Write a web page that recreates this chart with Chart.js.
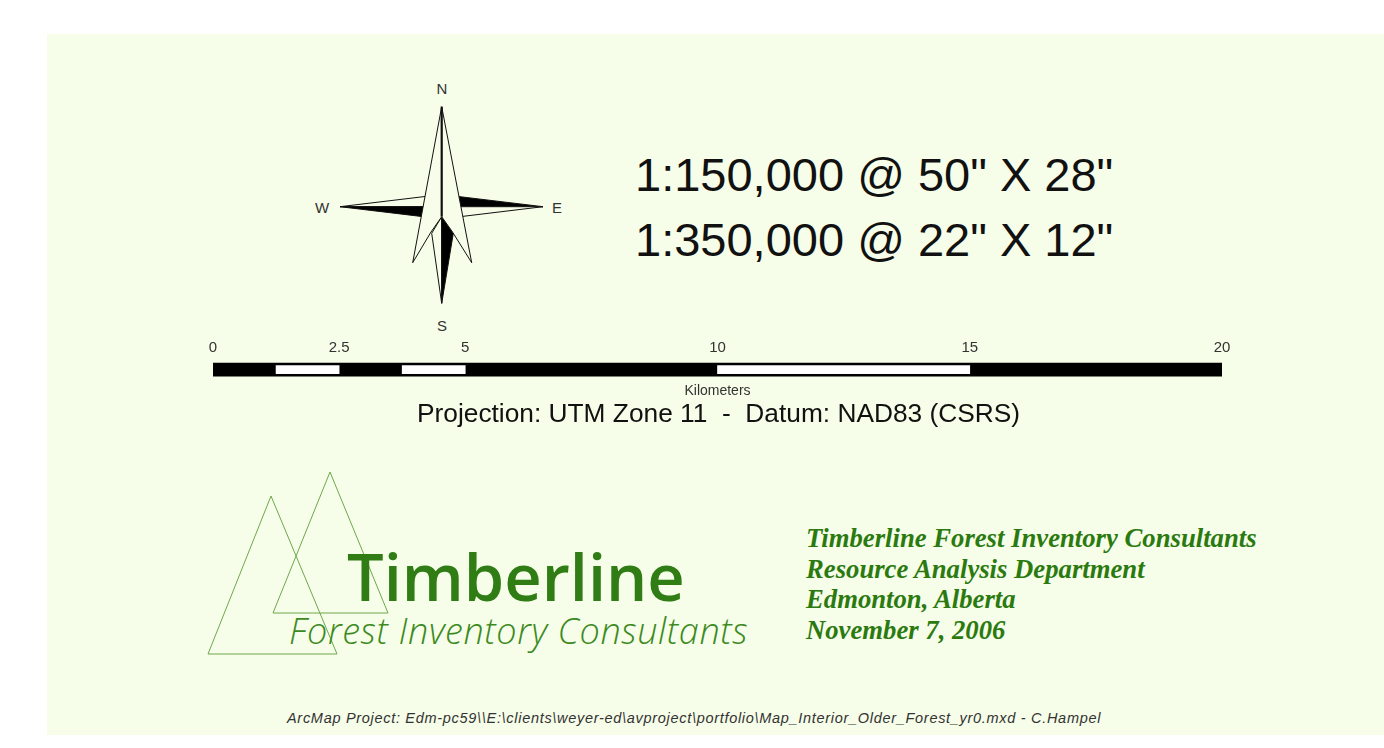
<!DOCTYPE html>
<html lang="en">
<head>
    <meta charset="UTF-8">
    <title>Map legend - scale bar</title>
    <script src="https://cdn.jsdelivr.net/npm/chart.js"></script>
    <style>
        body {
            margin: 0;
            width: 1384px;
            height: 748px;
            background: #ffffff;
            overflow: hidden;
            position: relative;
            font-family: "Liberation Sans", Arial, sans-serif;
        }
        #panel {
            position: absolute;
            left: 47px;
            top: 34px;
            right: 0;
            bottom: 13px;
            background: #f6fde8;
        }
        .txt {
            position: absolute;
            white-space: nowrap;
            line-height: 1;
        }
        .scale { font-size: 47px; color: #111; }
        #proj { left: 417px; top: 400px; font-size: 26.3px; color: #111; }
        #logo1 { left: 347px; top: 544px; font-family: "Open Sans", sans-serif; font-weight: 600; font-size: 65px; color: #2f7d14; }
        #logo2 { left: 289px; top: 613px; font-family: "Open Sans", sans-serif; font-weight: 300; font-style: italic; font-size: 36px; letter-spacing: 0.6px; color: #3c8a1e; }
        #info {
            position: absolute;
            left: 806px;
            top: 523px;
            font-family: "Liberation Serif", "Times New Roman", serif;
            font-weight: bold;
            font-style: italic;
            font-size: 26.7px;
            line-height: 30.5px;
            color: #2b7a10;
            white-space: nowrap;
        }
        #foot { left: 287px; top: 711px; font-style: italic; font-size: 14.5px; letter-spacing: 0.7px; color: #333; }
        svg { position: absolute; left: 0; top: 0; }
        #scaleBar { position: absolute; left: 200px; top: 336px; }
    </style>
</head>
<body>
    <div id="panel"></div>

    <!-- compass rose and logo triangles -->
    <svg width="1384" height="748">
        <g stroke="#111" stroke-width="1" stroke-linejoin="miter">
            <polygon points="340,206.7 441.7,194.5 441.7,206.7" fill="#f6fde8"/>
            <polygon points="340,206.7 441.7,206.7 441.7,218.9" fill="#000"/>
            <polygon points="543,206.7 441.7,194.5 441.7,206.7" fill="#000"/>
            <polygon points="543,206.7 441.7,206.7 441.7,218.9" fill="#f6fde8"/>
            <polygon points="441.7,216.7 431.7,233.3 441.7,303.3" fill="#f6fde8"/>
            <polygon points="441.7,216.7 453.3,233.3 441.7,303.3" fill="#000"/>
            <polygon points="441.7,106.7 471.7,262.7 452.5,232 441.7,216.7 431,232 412.7,262.7" fill="#f6fde8"/>
            <line x1="441.7" y1="106.7" x2="441.7" y2="216.7" stroke-width="2.2"/>
        </g>
        <g font-family="Liberation Sans, Arial, sans-serif" font-size="15" fill="#333" text-anchor="middle" dominant-baseline="central">
            <text x="442" y="88">N</text>
            <text x="557" y="207">E</text>
            <text x="442" y="325">S</text>
            <text x="322" y="207">W</text>
        </g>
        <g stroke="#6fa84c" stroke-width="1" fill="none">
            <polygon points="271,496 208,654 337,654"/>
            <polygon points="330,472 273,613 388,613"/>
        </g>
    </svg>

    <div class="txt scale" style="left:635px; top:151px;">1:150,000 @ 50" X 28"</div>
    <div class="txt scale" style="left:635px; top:216px;">1:350,000 @ 22" X 12"</div>

    <canvas id="scaleBar" width="1040" height="68"></canvas>

    <div class="txt" id="proj">Projection: UTM Zone 11&nbsp; -&nbsp; Datum: NAD83 (CSRS)</div>

    <div class="txt" id="logo1">Timberline</div>
    <div class="txt" id="logo2">Forest Inventory Consultants</div>

    <div id="info">
        Timberline Forest Inventory Consultants<br>
        Resource Analysis Department<br>
        Edmonton, Alberta<br>
        November 7, 2006
    </div>

    <div class="txt" id="foot">ArcMap Project: Edm-pc59\\E:\clients\weyer-ed\avproject\portfolio\Map_Interior_Older_Forest_yr0.mxd - C.Hampel</div>

    <script>
        // Scale bar data (kilometers)
        const category = ['Kilometers'];
        const barExtent = [0, 20];
        const scaleTicks = [0, 2.5, 5, 10, 15, 20];
        const whiteSegments = [[1.25, 2.5], [3.75, 5], [10, 15]];

        const ctx = document.getElementById('scaleBar').getContext('2d');

        // black full bar drawn first, white segments on top
        const datasets = [{
            label: 'bar',
            data: [barExtent],
            backgroundColor: '#000000',
            barThickness: 13,
            order: 2
        }];
        whiteSegments.forEach(seg => {
            datasets.push({
                label: 'segment',
                data: [seg],
                backgroundColor: '#ffffff',
                barThickness: 8,
                order: 1
            });
        });

        new Chart(ctx, {
            type: 'bar',
            data: { labels: category, datasets: datasets },
            options: {
                indexAxis: 'y',
                responsive: false,
                animation: false,
                datasets: { bar: { grouped: false } },
                layout: { padding: { left: 13, right: 18, top: 0, bottom: 0 } },
                plugins: {
                    legend: { display: false },
                    tooltip: { enabled: false }
                },
                scales: {
                    x: {
                        type: 'linear',
                        position: 'top',
                        min: 0,
                        max: 20,
                        afterBuildTicks: scale => {
                            scale.ticks = scaleTicks.map(v => ({ value: v }));
                        },
                        ticks: {
                            font: { family: 'Liberation Sans', size: 15 },
                            color: '#333',
                            padding: 3,
                            maxRotation: 0,
                            autoSkip: false
                        },
                        grid: { display: false, drawTicks: false },
                        border: { display: false }
                    },
                    x2: {
                        type: 'linear',
                        position: 'bottom',
                        min: 0,
                        max: 20,
                        ticks: { display: false },
                        grid: { display: false, drawTicks: false },
                        border: { display: false },
                        title: {
                            display: true,
                            text: 'Kilometers',
                            font: { family: 'Liberation Sans', size: 14 },
                            color: '#333',
                            padding: { top: 4, bottom: 4 }
                        }
                    },
                    y: { display: false }
                }
            }
        });
    </script>
</body>
</html>
